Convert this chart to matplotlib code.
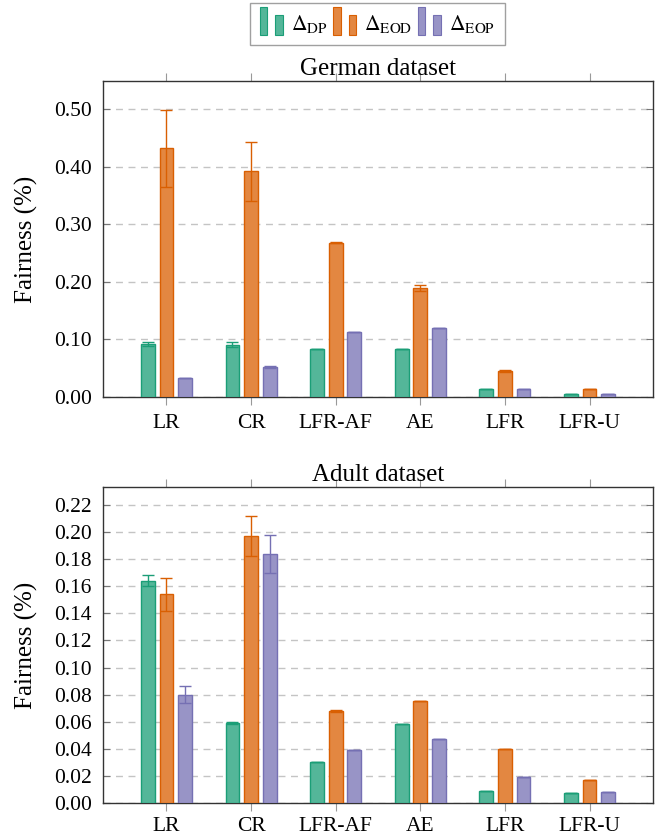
import matplotlib
matplotlib.use('Agg')
import matplotlib.pyplot as plt
import numpy as np
from matplotlib.patches import Rectangle
from matplotlib.legend_handler import HandlerBase

plt.rcParams['font.family'] = ['Liberation Serif', 'DejaVu Serif']
plt.rcParams['mathtext.fontset'] = 'stix'

methods = ['LR', 'CR', 'LFR-AF', 'AE', 'LFR', 'LFR-U']
series = [r'$\Delta_{\mathrm{DP}}$', r'$\Delta_{\mathrm{EOD}}$', r'$\Delta_{\mathrm{EOP}}$']

# German dataset
german_dp      = [0.092, 0.091, 0.083, 0.083, 0.013, 0.005]
german_dp_err  = [0.003, 0.004, 0.0, 0.0, 0.0, 0.0]
german_eod     = [0.432, 0.392, 0.268, 0.189, 0.045, 0.014]
german_eod_err = [0.067, 0.051, 0.001, 0.005, 0.001, 0.0]
german_eop     = [0.033, 0.052, 0.113, 0.120, 0.013, 0.006]
german_eop_err = [0.0, 0.002, 0.0, 0.0, 0.0, 0.0]

# Adult dataset
adult_dp      = [0.164, 0.059, 0.030, 0.058, 0.009, 0.0075]
adult_dp_err  = [0.004, 0.001, 0.0, 0.0, 0.0, 0.0]
adult_eod     = [0.154, 0.197, 0.068, 0.075, 0.040, 0.017]
adult_eod_err = [0.012, 0.015, 0.0005, 0.0, 0.0, 0.0]
adult_eop     = [0.080, 0.184, 0.039, 0.047, 0.019, 0.008]
adult_eop_err = [0.006, 0.014, 0.0, 0.0, 0.0, 0.0]

edge_colors = ['#1b9e77', '#d95f02', '#7570b3']
fill_colors = ['#54b699', '#e38741', '#9894c6']


class TwoBarHandler(HandlerBase):
    # pgfplots-style ybar legend image: two bars, the first one taller
    def create_artists(self, legend, orig_handle, xdescent, ydescent,
                       width, height, fontsize, trans):
        fc = orig_handle.get_facecolor()
        ec = orig_handle.get_edgecolor()
        bw = width * 0.3
        y0 = -ydescent - 0.35 * height
        r1 = Rectangle((-xdescent, y0), bw, height * 1.85,
                       facecolor=fc, edgecolor=ec, lw=0.8, transform=trans)
        r2 = Rectangle((-xdescent + width * 0.62, y0), bw, height * 1.35,
                       facecolor=fc, edgecolor=ec, lw=0.8, transform=trans)
        return [r1, r2]


fig = plt.figure(figsize=(6.67, 8.38), dpi=100)
ax1 = fig.add_axes([0.1544, 0.5263, 0.8246, 0.3771])
ax2 = fig.add_axes([0.1544, 0.0418, 0.8246, 0.3771])

x = np.arange(len(methods))
offsets = [-0.22, 0.0, 0.22]
width = 0.162


def draw(ax, vals, errs, title, ymax, yticks, fmt, xpad):
    bars = []
    for k in range(3):
        b = ax.bar(x + offsets[k], vals[k], width, color=fill_colors[k],
                   edgecolor=edge_colors[k], linewidth=1.0, zorder=3)
        ax.errorbar(x + offsets[k], vals[k], yerr=errs[k], fmt='none',
                    ecolor=edge_colors[k], elinewidth=1.0, capsize=4, capthick=1.0, zorder=4)
        bars.append(b)
    ax.set_xlim(-0.75, 5.75)
    ax.set_ylim(0, ymax)
    ax.set_yticks(yticks)
    ax.set_yticklabels([fmt % t for t in yticks])
    ax.set_xticks(x)
    ax.set_xticklabels(methods)
    ax.yaxis.grid(True, linestyle=(0, (5, 4)), color='#c4c4c4', linewidth=1.0, zorder=0)
    ax.set_axisbelow(True)
    ax.tick_params(axis='x', direction='out', length=6, color='#999999', top=True,
                   labelsize=15.5, pad=xpad)
    ax.tick_params(axis='y', direction='in', length=5, color='#777777', right=True,
                   labelsize=15.5, pad=8)
    for s in ax.spines.values():
        s.set_color('#333333')
        s.set_linewidth(1.0)
    ax.set_ylabel('Fairness (%)', fontsize=18)
    ax.yaxis.set_label_coords(-0.118, 0.5)
    ax.set_title(title, fontsize=18, pad=4)
    return bars


bars = draw(ax1, [german_dp, german_eod, german_eop],
            [german_dp_err, german_eod_err, german_eop_err],
            'German dataset', 0.549, np.arange(0, 0.51, 0.1), '%.2f', 6)
draw(ax2, [adult_dp, adult_eod, adult_eop],
     [adult_dp_err, adult_eod_err, adult_eop_err],
     'Adult dataset', 0.2333, np.arange(0, 0.221, 0.02), '%.2f', 4)

leg = fig.legend([b[0] for b in bars], series, loc='center',
                 bbox_to_anchor=(0.566, 0.9715), ncol=3, fontsize=15.5,
                 handler_map={Rectangle: TwoBarHandler()},
                 handlelength=1.15, handletextpad=0.3, columnspacing=0.25,
                 frameon=True, fancybox=False, edgecolor='#888888',
                 borderpad=0.45)
leg.get_frame().set_linewidth(1.0)

fig.savefig('out.png', dpi=100)
